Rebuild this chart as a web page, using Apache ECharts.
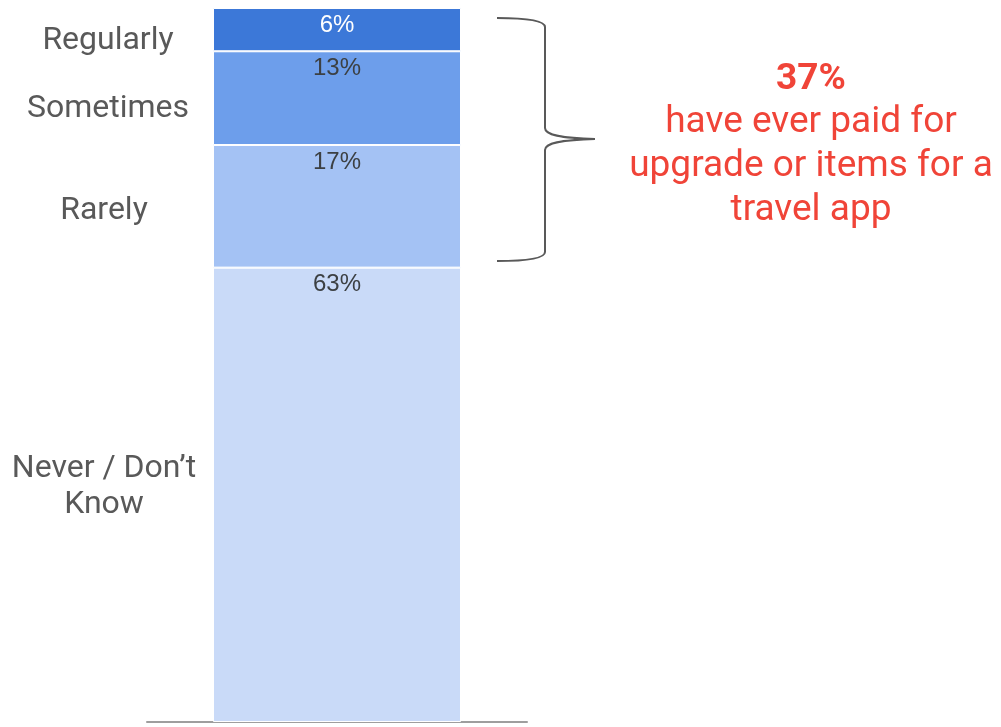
<!DOCTYPE html>
<html>
<head>
<meta charset="utf-8">
<script src="https://cdn.jsdelivr.net/npm/echarts@6/dist/echarts.min.js"></script>
<style>
  html, body { margin: 0; padding: 0; background: #fff; }
  #chart { width: 1001px; height: 727px; }
</style>
</head>
<body>
<div id="chart"></div>
<script>
// Share of respondents by how often they pay for travel-app upgrades/items
const categories = ['All'];
const responseNames = ['Never / Don\u2019t Know', 'Rarely', 'Sometimes', 'Regularly'];
const responseValues = [63, 17, 13, 6];
const segmentColors = ['#c9daf8', '#a4c2f4', '#6d9eeb', '#3c78d8'];
const valueLabelColors = ['#3c4043', '#3c4043', '#3c4043', '#ffffff'];
const paidShare = '37%';
const paidText = ['have ever paid for', 'upgrade or items for a', 'travel app'];

const total = responseValues.reduce((a, b) => a + b, 0);

const chart = echarts.init(document.getElementById('chart'));

const series = responseNames.map((name, i) => ({
  name: name,
  type: 'bar',
  stack: 'total',
  barWidth: 248,
  data: [responseValues[i]],
  itemStyle: { color: segmentColors[i], borderColor: '#ffffff', borderWidth: 1 },
  label: {
    show: true,
    position: 'insideTop',
    distance: 5,
    formatter: '{c}%',
    color: valueLabelColors[i],
    fontFamily: 'Liberation Sans, Arial, sans-serif',
    fontSize: 24
  },
  silent: true
}));

const sideLabelStyle = {
  fontFamily: 'Roboto, sans-serif',
  fontSize: 32,
  fill: '#595959',
  textAlign: 'center',
  textVerticalAlign: 'middle',
  lineHeight: 36
};

const braceStyle = { fill: null, stroke: '#595959', lineWidth: 2 };

chart.setOption({
  animation: false,
  grid: { left: 147, right: 474, top: 8, bottom: 5 },
  xAxis: {
    type: 'category',
    data: categories,
    axisLine: { show: true, lineStyle: { color: '#9e9e9e', width: 2 } },
    axisTick: { show: false },
    axisLabel: { show: false }
  },
  yAxis: {
    type: 'value',
    min: 0,
    max: total,
    show: false,
    splitLine: { show: false }
  },
  series: series,
  graphic: [
    { type: 'text', x: 108, y: 41, style: Object.assign({ text: 'Regularly' }, sideLabelStyle) },
    { type: 'text', x: 108, y: 109, style: Object.assign({ text: 'Sometimes' }, sideLabelStyle) },
    { type: 'text', x: 104, y: 211, style: Object.assign({ text: 'Rarely' }, sideLabelStyle) },
    { type: 'text', x: 104, y: 487, style: Object.assign({ text: 'Never / Don\u2019t\nKnow' }, sideLabelStyle) },
    // curly brace grouping the three "paid" segments
    { type: 'bezierCurve', shape: { x1: 497, y1: 18, cpx1: 525, cpy1: 18, cpx2: 545, cpy2: 20, x2: 545, y2: 27 }, style: braceStyle },
    { type: 'line', shape: { x1: 545, y1: 27, x2: 545, y2: 128 }, style: braceStyle },
    { type: 'bezierCurve', shape: { x1: 545, y1: 128, cpx1: 545, cpy1: 135, cpx2: 560, cpy2: 138, x2: 595, y2: 139 }, style: braceStyle },
    { type: 'bezierCurve', shape: { x1: 595, y1: 139, cpx1: 560, cpy1: 140, cpx2: 545, cpy2: 143, x2: 545, y2: 150 }, style: braceStyle },
    { type: 'line', shape: { x1: 545, y1: 150, x2: 545, y2: 252 }, style: braceStyle },
    { type: 'bezierCurve', shape: { x1: 545, y1: 252, cpx1: 545, cpy1: 259, cpx2: 525, cpy2: 261, x2: 497, y2: 261 }, style: braceStyle },
    {
      type: 'text', x: 811, y: 80,
      style: {
        text: paidShare,
        fontFamily: 'Roboto, sans-serif', fontSize: 37, fontWeight: 'bold',
        fill: '#f04438', textAlign: 'center', textVerticalAlign: 'middle'
      }
    },
    {
      type: 'text', x: 811, y: 167,
      style: {
        text: paidText.join('\n'),
        fontFamily: 'Roboto, sans-serif', fontSize: 37, lineHeight: 44,
        fill: '#f04438', textAlign: 'center', textVerticalAlign: 'middle'
      }
    }
  ]
});
</script>
</body>
</html>
